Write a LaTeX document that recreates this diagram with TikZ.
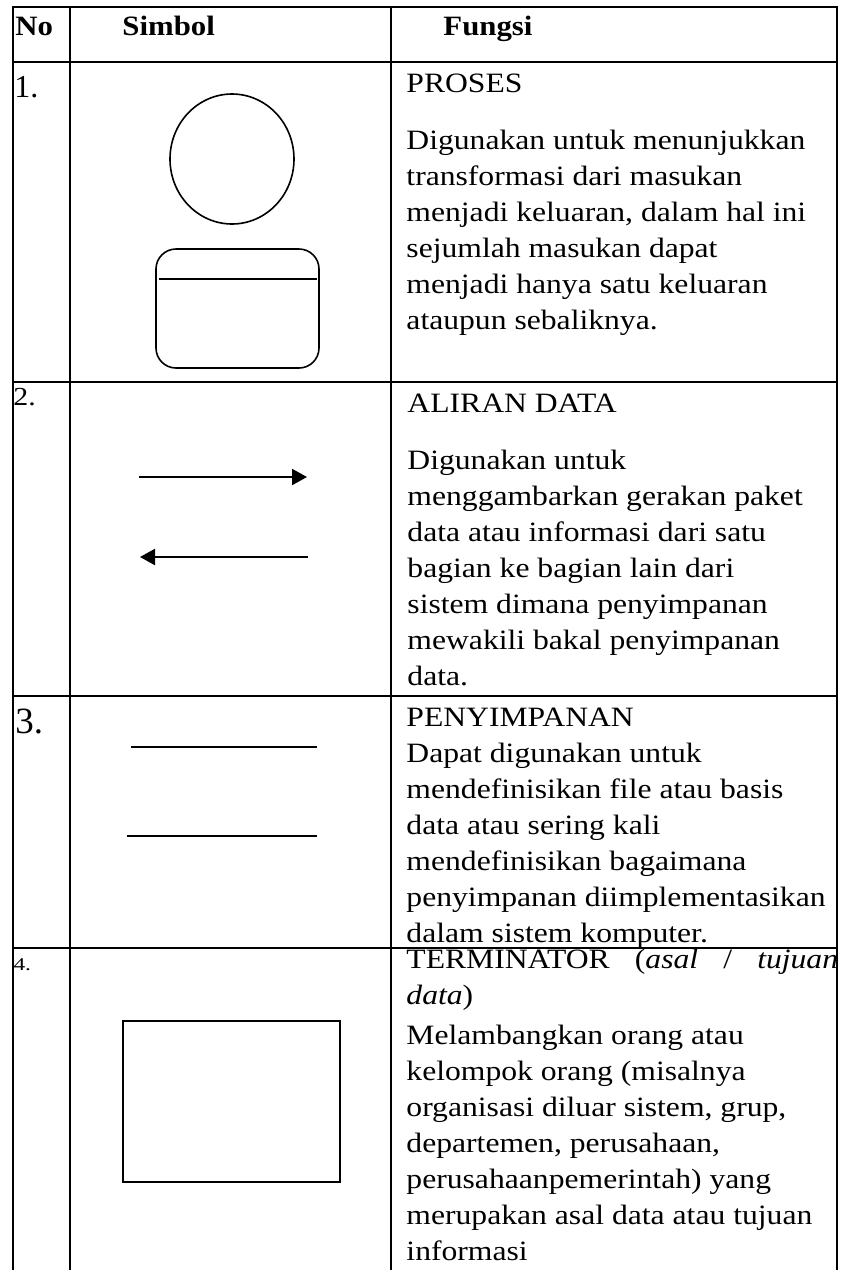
\documentclass[tikz,border=0pt]{standalone}
\usepackage{fontspec}
\setmainfont{Liberation Serif}
\usetikzlibrary{arrows.meta}
\tikzset{
    garis/.style={line width=1.3pt},
    isi/.style={anchor=base west,align=left,inner sep=0pt,xscale=1.13,font=\fontsize{14}{18}\selectfont},
    judul/.style={anchor=base west,inner sep=0pt,xscale=1.1,font=\fontsize{14}{18}\selectfont\bfseries},
    nomor/.style={anchor=base west,inner sep=0pt},
    simbol/.style={draw,line width=0.8pt},
    aliran/.style={draw,line width=1.15pt,-{Triangle[length=7.5pt,width=8pt]}},
    simpan/.style={draw,line width=1.2pt},
}

\begin{document}
\begin{tikzpicture}[x=0.5pt,y=0.5pt]
    \useasboundingbox (0,0) rectangle (842,-1270);
    % tabel
    \draw[garis] (13,-1270) -- (13,-7) -- (837,-7) -- (837,-1270);
    \draw[garis] (70,-7) -- (70,-1270);
    \draw[garis] (391,-7) -- (391,-1270);
    \draw[garis] (13,-62) -- (837,-62);
    \draw[garis] (13,-382) -- (837,-382);
    \draw[garis] (13,-696) -- (837,-696);
    \draw[garis] (13,-948) -- (837,-948);
    % kepala
    \node[judul] (hno) at (15,-35) {No};
    \node[judul] (hsimbol) at (122,-35) {Simbol};
    \node[judul] (hfungsi) at (443,-35) {Fungsi};
    % baris 1
    \node[nomor,font=\fontsize{16}{18}\selectfont] (n1) at (14,-97) {1.};
    \draw[simbol] (232,-159) ellipse [x radius=62,y radius=65];
    \draw[simbol,rounded corners=10pt] (156,-249) rectangle (319,-368);
    \draw[simbol] (159,-279) -- (317,-279);
    \node[isi] (proses) at (406,-329) {PROSES\\[10.5pt]
        Digunakan untuk menunjukkan\\
        transformasi dari masukan\\
        menjadi keluaran, dalam hal ini\\
        sejumlah masukan dapat\\
        menjadi hanya satu keluaran\\
        ataupun sebaliknya.};
    % baris 2
    \node[nomor,xscale=1.15,font=\fontsize{13}{18}\selectfont] (n2) at (13,-405) {2.};
    \draw[aliran] (139,-477) -- (307,-477);
    \draw[aliran] (308,-557) -- (140,-557);
    \node[isi] (aliran) at (407,-685) {ALIRAN DATA\\[10.5pt]
        Digunakan untuk\\
        menggambarkan gerakan paket\\
        data atau informasi dari satu\\
        bagian ke bagian lain dari\\
        sistem dimana penyimpanan\\
        mewakili bakal penyimpanan\\
        data.};
    % baris 3
    \node[nomor,font=\fontsize{18.5}{18}\selectfont] (n3) at (15,-733) {3.};
    \draw[simpan] (131,-747) -- (317,-747);
    \draw[simpan] (127,-836) -- (317,-836);
    \node[isi] (penyimpanan) at (406,-942) {PENYIMPANAN\\
        Dapat digunakan untuk\\
        mendefinisikan file atau basis\\
        data atau sering kali\\
        mendefinisikan bagaimana\\
        penyimpanan diimplementasikan\\
        dalam sistem komputer.};
    % baris 4
    \node[nomor,xscale=1.3,font=\fontsize{9}{18}\selectfont] (n4) at (13,-970) {4.};
    \draw[simbol] (123,-1021) rectangle (340,-1182);
    \node[isi] (terminator) at (406,-1260) {\makebox[191pt][s]{TERMINATOR (\textit{asal} / \textit{tujuan}}\\
        \textit{data})\\[2pt]
        Melambangkan orang atau\\
        kelompok orang (misalnya\\
        organisasi diluar sistem, grup,\\
        departemen, perusahaan,\\
        perusahaanpemerintah) yang\\
        merupakan asal data atau tujuan\\
        informasi};
\end{tikzpicture}
\end{document}
